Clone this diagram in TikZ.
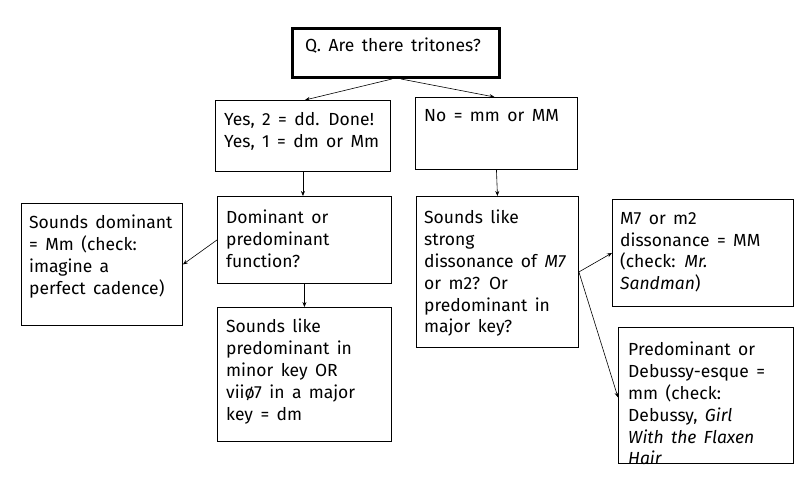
\documentclass[tikz,border=0pt]{standalone}
\usepackage{fontspec}
\setmainfont[WordSpace=1.6]{Fira Sans}
\usetikzlibrary{arrows.meta}
\begin{document}
\begin{tikzpicture}[x=1pt,y=-1pt,
  box/.style={draw, line width=0.9pt, inner sep=0pt, anchor=north west},
  qbox/.style={box, line width=3pt},
  txt/.style={anchor=north west, inner sep=0pt, align=left, font=\fontsize{17.5}{21.8}\selectfont},
  arr/.style={-{Stealth[length=5pt,width=4pt]}, line width=0.6pt}]
\useasboundingbox (0,0) rectangle (808,485);
% boxes
\node[qbox, minimum width=207pt, minimum height=49pt] (q) at (291,27) {};
\node[box, minimum width=175pt, minimum height=71pt] (yes) at (215,100) {};
\node[box, minimum width=162pt, minimum height=72pt] (no) at (415,97) {};
\node[box, minimum width=174pt, minimum height=87pt] (dom) at (217,196) {};
\node[box, minimum width=161pt, minimum height=122pt] (sdom) at (21,203) {};
\node[box, minimum width=174pt, minimum height=134pt] (pred) at (217,307) {};
\node[box, minimum width=162pt, minimum height=151pt] (strong) at (416,196) {};
\node[box, minimum width=181pt, minimum height=107pt] (mseven) at (612,199) {};
\node[box, minimum width=175pt, minimum height=136pt] (deb) at (618,327) {};
% texts
\node[txt] (qt) at (305,38) {Q. Are there tritones?};
\node[txt] (yest) at (224,112) {Yes, 2 = dd. Done!\\Yes, 1 = dm or Mm};
\node[txt] (not) at (424,109) {No = mm or MM};
\node[txt] (domt) at (226,210) {Dominant or\\predominant\\function?};
\node[txt] (sdomt) at (29,215) {Sounds dominant\\= Mm (check:\\imagine a\\perfect cadence)};
\node[txt] (predt) at (226,319) {Sounds like\\predominant in\\minor key OR\\viiø7 in a major\\key = dm};
\node[txt] (strongt) at (424,210) {Sounds like\\strong\\dissonance of \textit{M7}\\or m2? Or\\predominant in\\major key?};
\node[txt] (msevent) at (620,212) {M7 or m2\\dissonance = MM\\(check: \textit{Mr.}\\\textit{Sandman})};
\node[txt] (debt) at (628,342) {Predominant or\\Debussy-esque =\\mm (check:\\Debussy, \textit{Girl}\\\textit{With the Flaxen}\\\textit{Hair}};
% connectors
\draw[arr] ([xshift=-4pt]q.south) -- ([xshift=2pt]yes.north);
\draw[arr] ([xshift=5pt]q.south) -- ([xshift=-2pt]no.north);
\draw[arr] (yes.south) -- (yes.south |- dom.north);
\draw[arr] (dom.west) -- (sdom.east);
\draw[arr] (dom.south) -- (pred.north);
\draw[arr] (no.south) -- (strong.north);
\draw[arr] (strong.east) -- (mseven.west);
\draw[arr] (strong.east) -- ([yshift=-2pt]deb.west);
\end{tikzpicture}
\end{document}
